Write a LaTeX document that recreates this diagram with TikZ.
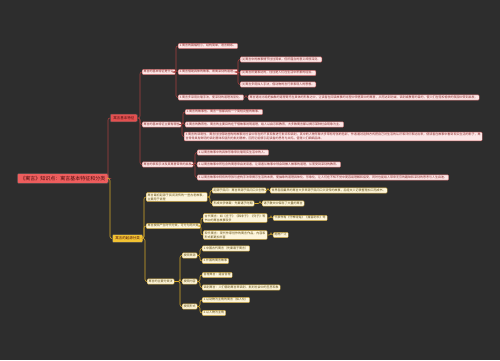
\documentclass[tikz,border=0pt]{standalone}
\usepackage{fontspec}
\newfontfamily\cjk{Noto Sans CJK SC}
\XeTeXlinebreaklocale "zh"
\XeTeXlinebreakskip = 0pt plus 1pt
\definecolor{bg}{HTML}{2D2D2D}
\definecolor{rootred}{HTML}{EE5D5D}
\definecolor{rootdark}{HTML}{4A0F0F}
\definecolor{mainred}{HTML}{E45050}
\definecolor{mainyel}{HTML}{F2C232}
\definecolor{pinkfill}{HTML}{FCE6E6}
\definecolor{pinkborder}{HTML}{C86464}
\definecolor{redtext}{HTML}{8A2A2A}
\definecolor{creamfill}{HTML}{FDF5DA}
\definecolor{creamborder}{HTML}{C9A23A}
\definecolor{yeltext}{HTML}{5E4A10}
\definecolor{linered}{HTML}{A8403F}
\definecolor{lineyel}{HTML}{D9AA2A}
\tikzset{
 base/.style={anchor=west, rounded corners=1pt, inner xsep=1.5pt, inner ysep=1.1pt,
   font=\cjk\fontsize{3}{3.8}\selectfont, line width=0.4pt},
 one/.style={text height=2.4pt, text depth=0.6pt},
 rc/.style={base, one, fill=pinkfill, draw=pinkborder, text=redtext},
 rcm/.style={base, fill=pinkfill, draw=pinkborder, text=redtext, text width=#1, align=left},
 yc/.style={base, one, fill=creamfill, draw=creamborder, text=yeltext},
 ycm/.style={base, fill=creamfill, draw=creamborder, text=yeltext, text width=#1, align=left},
 rootn/.style={anchor=west, fill=rootred, draw=black!70, line width=0.5pt, rounded corners=1.2pt,
   font=\cjk\fontsize{5}{6}\selectfont, text=rootdark, inner xsep=3pt, inner ysep=2.4pt,
   text height=4pt, text depth=1pt},
 mainn/.style={anchor=west, draw=black!70, line width=0.5pt, rounded corners=1pt,
   font=\cjk\fontsize{3.5}{4.2}\selectfont, text=rootdark, inner xsep=3pt, inner ysep=2.2pt,
   text height=2.8pt, text depth=0.7pt},
 rl/.style={draw=linered, line width=0.6pt, rounded corners=2pt},
 yl/.style={draw=lineyel, line width=0.6pt, rounded corners=2pt},
}
\newcommand{\lnk}[3]{\draw[#1] (#2.east) -| ([xshift=-2pt]#3.west) -- (#3.west);}
\begin{document}
\begin{tikzpicture}[x=1pt,y=-1pt]
\path[use as bounding box, fill=bg] (0,0) rectangle (500,360);

% root
\node[rootn] (root) at (17,178.5) {《寓言》知识点：寓言基本特征和分类};
\node[mainn, fill=mainred] (m1) at (110,118) {寓言基本特征};
\node[mainn, fill=mainyel] (m2) at (112,238.5) {寓言的起源分类};

% red branch
\node[rc] (A) at (142,72) {寓言的基本特征是什么};
\node[rc] (GA1) at (178,46) {1.寓言的篇幅短小，结构简单，语言精练。};
\node[rc] (GA2) at (178,72) {2.寓言借助具体的故事，寄寓深刻的道理。};
\node[rc] (GAA1) at (240,59.5) {(1)寓言中的故事情节往往简单，但所蕴含的意义却很深刻。};
\node[rc] (GAA2) at (240,73) {(2)寓言所要表达的，往往是人们在生活中积累的经验。};
\node[rc] (GAA3) at (240,84.5) {(3)寓言多用拟人手法，借动物的言行来表现人的思想。};
\node[rc] (GA3) at (178,97.5) {3.寓言多采用比喻手法，使深刻的道理浅显化。};
\node[rc] (GA3c) at (248,97.5) {寓言通过比喻把抽象的道理寄托在具体的形象之中，让读者在阅读故事的过程中领悟其中的寓意，从而达到劝诫、讽刺或教育的目的，使人们在轻松愉快的氛围中受到启发。};

\node[rc] (B) at (142,124.5) {寓言的基本特征主要有哪些};
\node[rc] (GB1) at (185,112) {1.寓言的故事性。寓言一般都具有一个简短完整的故事。};
\node[rc] (GB2) at (185,124.5) {2.寓言的教育性。寓言的主要目的在于借故事说明道理，给人以启示和教育，大多数寓言都以揭示某种社会现象为主。};
\node[rcm=295pt] (GB3) at (184,136.5) {3.寓言的讽刺性。寓言往往借助虚构的故事对社会中存在的不良现象进行批评和讽刺，其中的人物形象大多带有夸张的色彩，作者通过这种方式把自己对生活的认识和评价表达出来，使读者在故事中看到现实生活的影子，寓言常常具有鲜明的讽刺意味和强烈的批判精神，因而它能够引起读者的思考与共鸣，值得人们细细品味。};

\node[rc] (C) at (142,164.5) {寓言的表现手法及其寓意带来的启发};
\node[rc] (GC1) at (197,152.5) {1.以寓言故事中的具体形象来比喻现实生活中的人。};
\node[rc] (GC2) at (197,164.5) {2.以寓言故事中所包含的寓意来启发读者，让读者从故事中领会到做人做事的道理，从而受到深刻的教育。};
\node[rc] (GC3) at (197,177.5) {3.以寓言故事中特有的夸张与虚构手法来揭示生活的本质，使抽象的道理具体化、形象化，让人们在不知不觉中更容易理解和接受，同时也能给人带来无穷的趣味和深刻的思考与人生启迪。};

% yellow branch
\node[ycm=58pt] (YA) at (146,197) {寓言最初起源于民间流传的一些古老故事，主要用于说理};
\node[yc] (YA1) at (212,190.5) {起源于民间：寓言来源于民间口头创作};
\node[yc] (YA1c) at (270,190.5) {世界各国最早的寓言大多来源于民间口头流传的故事，后经文人记录整理加工而成书。};
\node[yc] (YA2) at (212,203.5) {形成文学体裁：先秦诸子时期};
\node[yc] (YA2c) at (262,203.5) {诸子散文中保存了大量的寓言};

\node[yc] (YB) at (146,226) {寓言按照产生时代分类，可分为两大类};
\node[ycm=61pt] (YB1) at (203,218) {古代寓言：如《庄子》《韩非子》《列子》等书中的寓言故事较多};
\node[yc] (YB1c) at (273,218) {代表作有《守株待兔》《揠苗助长》等};
\node[ycm=61pt] (YB2) at (203,235) {现代寓言：现代作家创作的寓言作品，内容和形式都更加丰富};
\node[yc] (YB2c) at (273,235) {题材广泛};

\node[yc] (YD) at (147,281.5) {寓言的主要分类法};
\node[yc] (YD1) at (182,255.5) {按照来源};
\node[yc] (YD1a) at (202,248.5) {1.中国古代寓言（先秦诸子寓言）};
\node[yc] (YD1b) at (202,261) {2.外国的寓言故事};
\node[yc] (YD2) at (182,281.5) {按照内容};
\node[yc] (YD2a) at (202,275) {哲理寓言：蕴含哲理};
\node[yc] (YD2b) at (202,287.5) {讽刺寓言：人们借助寓言来讽刺、批判社会中的丑恶现象};
\node[yc] (YD3) at (182,306.5) {按照形式};
\node[yc] (YD3a) at (202,300) {1.以动物为主角的寓言（拟人化）};
\node[yc] (YD3b) at (202,313) {2.以人物为主角};

% connectors
\lnk{rl}{root}{m1}
\lnk{yl}{root}{m2}
\lnk{rl}{m1}{A}
\lnk{rl}{m1}{B}
\lnk{rl}{m1}{C}
\lnk{rl}{A}{GA1}
\lnk{rl}{A}{GA2}
\lnk{rl}{A}{GA3}
\lnk{rl}{GA2}{GAA1}
\lnk{rl}{GA2}{GAA2}
\lnk{rl}{GA2}{GAA3}
\lnk{rl}{GA3}{GA3c}
\lnk{rl}{B}{GB1}
\lnk{rl}{B}{GB2}
\lnk{rl}{B}{GB3}
\lnk{rl}{C}{GC1}
\lnk{rl}{C}{GC2}
\lnk{rl}{C}{GC3}
\lnk{yl}{m2}{YA}
\lnk{yl}{m2}{YB}
\lnk{yl}{m2}{YD}
\lnk{yl}{YA}{YA1}
\lnk{yl}{YA}{YA2}
\lnk{yl}{YA1}{YA1c}
\lnk{yl}{YA2}{YA2c}
\lnk{yl}{YB}{YB1}
\lnk{yl}{YB}{YB2}
\lnk{yl}{YB1}{YB1c}
\lnk{yl}{YB2}{YB2c}
\lnk{yl}{YD}{YD1}
\lnk{yl}{YD}{YD2}
\lnk{yl}{YD}{YD3}
\lnk{yl}{YD1}{YD1a}
\lnk{yl}{YD1}{YD1b}
\lnk{yl}{YD2}{YD2a}
\lnk{yl}{YD2}{YD2b}
\lnk{yl}{YD3}{YD3a}
\lnk{yl}{YD3}{YD3b}
\end{tikzpicture}
\end{document}
